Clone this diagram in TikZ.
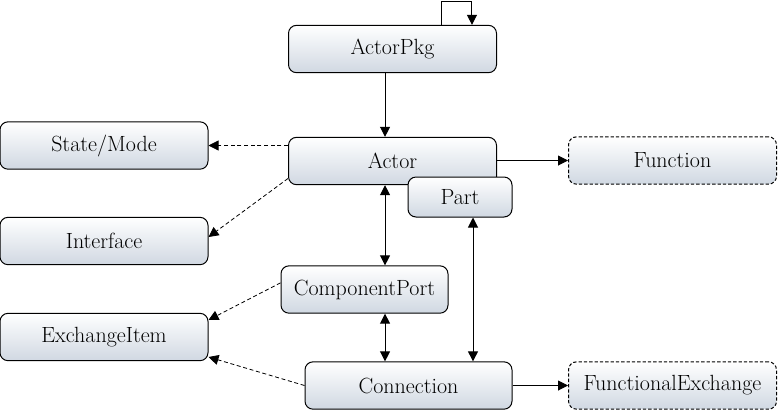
\documentclass[tikz,border=0pt]{standalone}
\usepackage{tikz}
\usetikzlibrary{arrows.meta,calc,positioning,shapes}

\definecolor{boxbot}{RGB}{208,216,226}
\tikzset{
  box/.style={draw, rounded corners=6pt, line width=0.75pt, top color=white, bottom color=boxbot,
    font=\fontsize{16.5}{19}\selectfont, inner sep=0pt, minimum width=156pt, minimum height=35.5pt},
  extbox/.style={box, dashed, dash pattern=on 2.5pt off 1.5pt},
  arr/.style={-{Triangle[length=7.5pt,width=7.5pt]}, line width=0.75pt},
  dblarr/.style={{Triangle[length=7.5pt,width=7.5pt]}-{Triangle[length=7.5pt,width=7.5pt]}, line width=0.75pt},
  dasharr/.style={arr, line width=0.6pt, dash pattern=on 3pt off 2pt}
}

\begin{document}
\begin{tikzpicture}[x=0.75pt, y=-0.75pt]
			\useasboundingbox (0,0) rectangle (778,412);
			\node[box] (actorpkg) at (392.5,49) {ActorPkg};
			\node[box] (actor) at (392.5,161) {Actor};
			\node[box, minimum width=78pt, minimum height=30pt] (part) at (460,197) {Part};
			\node[box] (statemode) at (104,145.5) {State/Mode};
			\node[box] (interface) at (104,241) {Interface};
			\node[box, minimum width=125.25pt] (compport) at (364.5,289.5) {ComponentPort};
			\node[box] (exitem) at (104,337) {ExchangeItem};
			\node[box, minimum width=155.25pt] (connection) at (408.5,385.5) {Connection};
			\node[extbox] (function) at (672.5,160.5) {Function};
			\node[extbox] (funcex) at (672.5,385.5) {FunctionalExchange};
			\coordinate (vx) at ([xshift=15.4pt]compport.north);
			\coordinate (px) at ([xshift=9.75pt]part.south);
			\draw[arr] ([xshift=36.4pt]actorpkg.north) -- ++(0,-23) -| ([xshift=59.6pt]actorpkg.north);
			\draw[arr] (vx |- actorpkg.south) -- (vx |- actor.north);
			\draw[dasharr] (actor.west |- statemode.east) -- (statemode.east);
			\draw[dasharr] ([yshift=5pt]actor.south west) -- ([yshift=3pt]interface.east);
			\draw[dblarr] (vx |- actor.south) -- (vx);
			\draw[dblarr] (vx |- compport.south) -- (vx |- connection.north);
			\draw[dblarr] (px) -- (px |- connection.north);
			\draw[dasharr] ([yshift=5pt]compport.west) -- ([yshift=12.75pt]exitem.east);
			\draw[dasharr] (connection.west) -- ([yshift=-15pt]exitem.east);
			\draw[arr] (actor.east |- function.west) -- (function.west);
			\draw[arr] (connection.east) -- (funcex.west);
		\end{tikzpicture}
\end{document}
